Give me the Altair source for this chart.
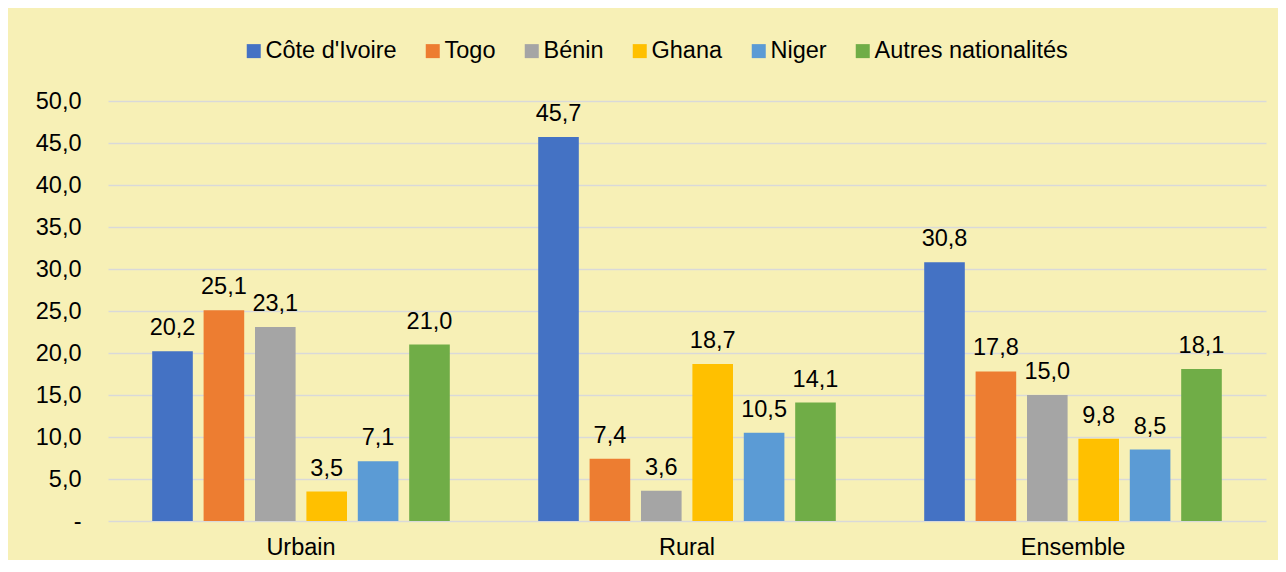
import altair as alt
import pandas as pd

milieux = ["Urbain", "Rural", "Ensemble"]
nationalites = ["Côte d'Ivoire", "Togo", "Bénin", "Ghana", "Niger", "Autres nationalités"]
couleurs = ["#4472C4", "#ED7D31", "#A5A5A5", "#FFC000", "#5B9BD5", "#70AD47"]

urbain = [20.2, 25.1, 23.1, 3.5, 7.1, 21.0]
rural = [45.7, 7.4, 3.6, 18.7, 10.5, 14.1]
ensemble = [30.8, 17.8, 15.0, 9.8, 8.5, 18.1]

rows = []
for m, vals in zip(milieux, [urbain, rural, ensemble]):
    for n, v in zip(nationalites, vals):
        rows.append({"milieu": m, "nat": n, "val": v,
                     "lab": f"{v:.1f}".replace(".", ",")})
df = pd.DataFrame(rows)

FONT = "Liberation Sans"
FS = 23.5

x = alt.X("milieu:N", sort=milieux, title=None,
          scale=alt.Scale(paddingInner=0, paddingOuter=0),
          axis=alt.Axis(domain=False, ticks=False, labelAngle=0,
                        labelFontSize=FS, labelFont=FONT, labelColor="#000000",
                        labelPadding=14))
xo = alt.XOffset("nat:N", sort=nationalites,
                 scale=alt.Scale(paddingInner=0.21, paddingOuter=0.86))
y = alt.Y("val:Q", title=None,
          scale=alt.Scale(domain=[0, 50], nice=False),
          axis=alt.Axis(values=list(range(0, 55, 5)), domain=False, ticks=False,
                        labelFontSize=FS, labelFont=FONT, labelColor="#000000",
                        labelPadding=27, gridColor="#D9D9D9", gridWidth=1.6,
                        labelExpr="datum.value == 0 ? '-' : replace(format(datum.value, '.1f'), '.', ',')"))

color = alt.Color("nat:N", sort=nationalites,
                  scale=alt.Scale(domain=nationalites, range=couleurs),
                  legend=alt.Legend(title=None, orient="none", direction="horizontal",
                                    legendX=134, legendY=-62, padding=0,
                                    symbolType="square", symbolSize=196,
                                    symbolStrokeWidth=0, symbolOpacity=1,
                                    labelFontSize=FS, labelFont=FONT,
                                    labelColor="#000000", labelOffset=0,
                                    labelLimit=400,
                                    columnPadding=24, columns=6))

bars = alt.Chart(df).mark_bar().encode(x=x, xOffset=xo, y=y, color=color)
labels = alt.Chart(df).mark_text(baseline="alphabetic", dy=-16, fontSize=FS,
                                 font=FONT, color="#000000").encode(
    x=alt.X("milieu:N", sort=milieux), xOffset=alt.XOffset("nat:N", sort=nationalites),
    y="val:Q", text="lab:N")

chart = (bars + labels).properties(
    width=1158, height=420,
    autosize=alt.AutoSizeParams(type="none"),
    padding={"left": 100, "top": 93, "right": 12, "bottom": 39},
    background="#F7F0B6",
).configure_view(stroke=None)

chart.save("out.html", embed_options={"renderer": "svg", "actions": False})
